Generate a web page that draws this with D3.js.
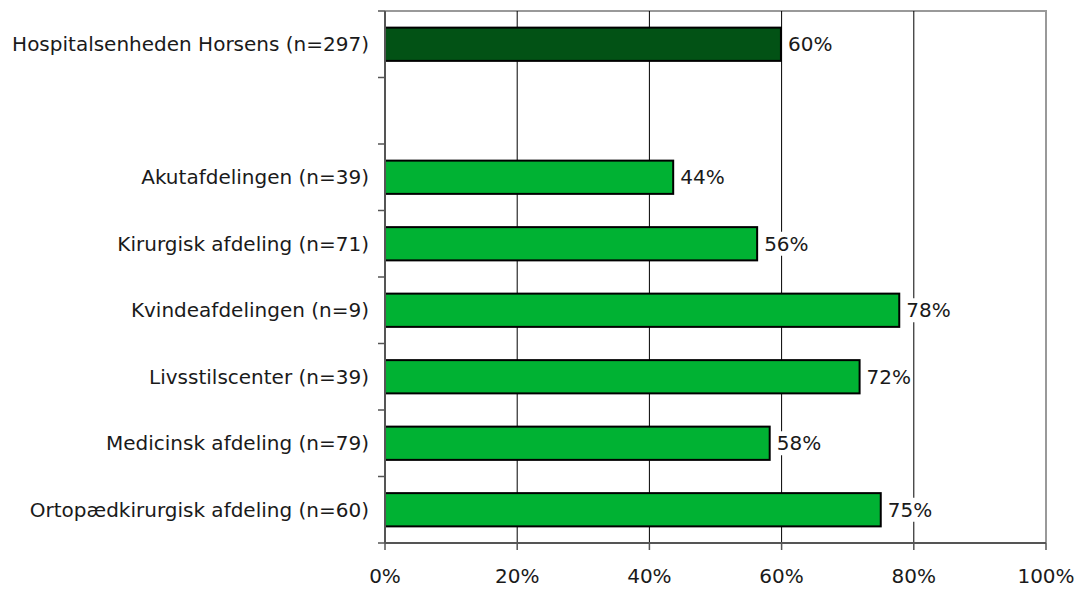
<!DOCTYPE html>
<html><head><meta charset="utf-8">
<script src="https://cdn.jsdelivr.net/npm/d3@7"></script>
<style>body{margin:0;background:#fff}svg{display:block}text{font-family:"DejaVu Sans",sans-serif;fill:#1a1a1a}</style>
</head><body><svg id="c" width="1080" height="592"></svg>
<script>
const categories = ["Hospitalsenheden Horsens (n=297)", "", "Akutafdelingen (n=39)", "Kirurgisk afdeling (n=71)", "Kvindeafdelingen (n=9)", "Livsstilscenter (n=39)", "Medicinsk afdeling (n=79)", "Ortopædkirurgisk afdeling (n=60)"];
const values = [0.599, null, 0.436, 0.563, 0.778, 0.718, 0.582, 0.75];
const valueLabels = ["60%", "", "44%", "56%", "78%", "72%", "58%", "75%"];
const highlight = [true, false, false, false, false, false, false, false];
const xTicks = [0, 0.2, 0.4, 0.6, 0.8, 1];

(function(){
const svg = d3.select("#c");
const L = 385, R = 1046, T = 11, B = 543;
const FS = 20;
const x = d3.scaleLinear().domain([0, 1]).range([L, R]);
const y = d3.scaleBand().domain(d3.range(categories.length)).range([T, B]).paddingInner(0.5).paddingOuter(0.25);
const yb = d3.scaleBand().domain(d3.range(categories.length)).range([T, B]);

svg.append("path").attr("d", `M${L},${T}H${R}V${B}`).attr("fill","none").attr("stroke","#999").attr("stroke-width",2);
svg.append("g").selectAll("line").data(xTicks.slice(1, -1)).join("line")
  .attr("x1", d => x(d)).attr("x2", d => x(d)).attr("y1", T).attr("y2", B)
  .attr("stroke", "#000").attr("stroke-width", 1);

const data = categories.map((c, i) => ({c, i, v: values[i], l: valueLabels[i], h: highlight[i]})).filter(d => d.v != null);
svg.append("g").selectAll("rect").data(data).join("rect")
  .attr("x", x(0)).attr("y", d => y(d.i)).attr("width", d => x(d.v) - x(0)).attr("height", y.bandwidth())
  .attr("fill", d => d.h ? "#025215" : "#00b233").attr("stroke", "#000").attr("stroke-width", 2);

const lg = svg.append("g").selectAll("g").data(data).join("g")
  .attr("transform", d => `translate(${x(d.v) + 4},${y(d.i) + y.bandwidth()/2})`);
lg.append("rect").attr("x", 0).attr("y", -12).attr("width", 44).attr("height", 24).attr("fill", "#fff");
lg.append("text").attr("x", 3).attr("dy", "0.36em").attr("font-size", FS).text(d => d.l);

const yAxis = svg.append("g").attr("transform", `translate(${L},0)`);
yAxis.append("line").attr("x1",0).attr("x2",0).attr("y1",T).attr("y2",B).attr("stroke","#555").attr("stroke-width",2);
yAxis.selectAll(".tk").data(d3.range(categories.length + 1)).join("line")
  .attr("x1", -7).attr("x2", 0)
  .attr("y1", d => T + d * yb.step()).attr("y2", d => T + d * yb.step()).attr("stroke", "#555").attr("stroke-width", 1.5);
yAxis.selectAll("text").data(categories.map((c,i)=>({c,i}))).join("text")
  .attr("x", -16).attr("y", d => yb(d.i) + yb.bandwidth()/2).attr("dy","0.36em")
  .attr("text-anchor","end").attr("font-size", FS).text(d => d.c);

const xAxis = svg.append("g").attr("transform", `translate(0,${B})`);
xAxis.append("line").attr("x1", L).attr("x2", R).attr("stroke","#555").attr("stroke-width",2);
xAxis.selectAll(".tk").data(xTicks).join("line")
  .attr("x1", d => x(d)).attr("x2", d => x(d)).attr("y1", 0).attr("y2", 7).attr("stroke","#555").attr("stroke-width",1.5);
xAxis.selectAll("text").data(xTicks).join("text")
  .attr("x", d => x(d)).attr("y", 40).attr("text-anchor","middle").attr("font-size", FS)
  .text(d => d3.format(".0%")(d));
})();
</script></body></html>
